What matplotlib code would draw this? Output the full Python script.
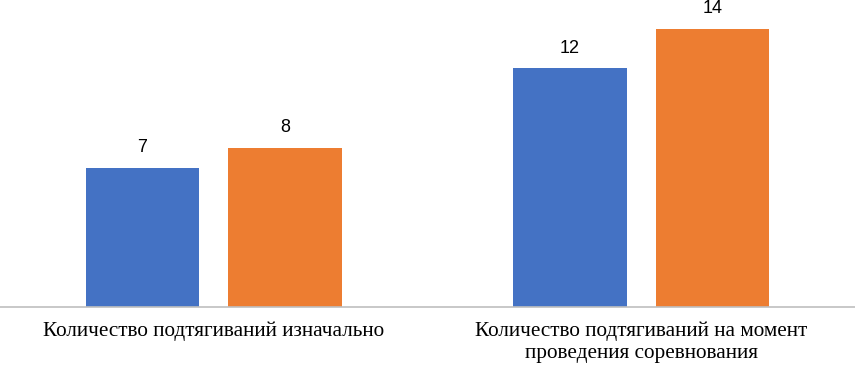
import numpy as np
import matplotlib
matplotlib.use("Agg")
import matplotlib.pyplot as plt

categories = ["Количество подтягиваний изначально",
              "Количество подтягиваний на момент\nпроведения соревнования"]
series_a = [7, 12]
series_b = [8, 14]

blue = "#4472C4"
orange = "#ED7D31"

fig = plt.figure(figsize=(8.55, 3.68), dpi=100)
ax = fig.add_axes([0, 0.1666, 1, 0.8334])

x = np.arange(len(categories))
w = 0.266
off = 0.1668
bars_a = ax.bar(x - off, series_a, w, color=blue)
bars_b = ax.bar(x + off, series_b, w, color=orange)

for bars in (bars_a, bars_b):
    for b in bars:
        ax.annotate(f"{b.get_height():g}", (b.get_x() + b.get_width() / 2, b.get_height()),
                    xytext=(0, 8.5), textcoords="offset points", ha="center", va="bottom",
                    fontsize=13, family="Liberation Sans", color="#000000")

ax.set_xlim(-0.5, 1.5)
ax.set_ylim(0, 15.45)
ax.set_xticks(x)
ax.set_xticklabels(categories, family="Liberation Serif", fontsize=15.3, linespacing=1.2)
ax.tick_params(axis="x", length=0, pad=11)
ax.set_yticks([])
for s in ("top", "left", "right"):
    ax.spines[s].set_visible(False)
ax.spines["bottom"].set_color("#BFBFBF")
ax.spines["bottom"].set_linewidth(1.2)
ax.patch.set_alpha(0)

fig.savefig("out.png", dpi=100)
